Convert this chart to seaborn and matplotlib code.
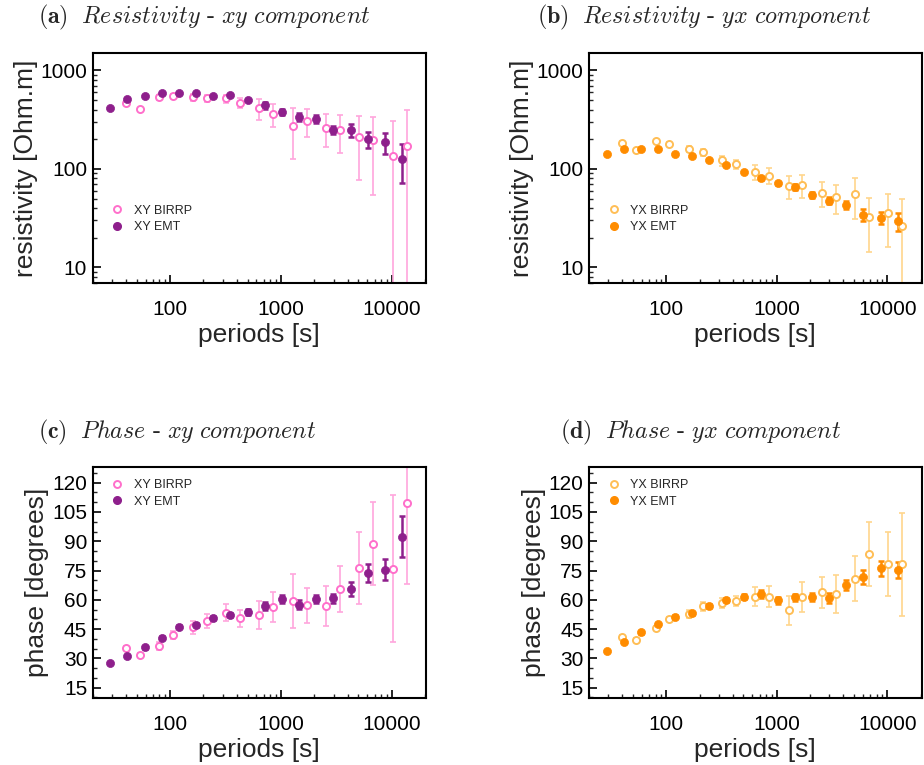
import numpy as np
import pandas as pd
import matplotlib
matplotlib.use("Agg")
import matplotlib.pyplot as plt
import seaborn as sns
from matplotlib.lines import Line2D
from matplotlib.ticker import LogLocator, FuncFormatter, MultipleLocator, NullFormatter

# ---------------- data ----------------
emt_periods = [28.8, 41.2, 58.8, 84.0, 120, 171.6, 245, 350, 501, 715, 1022, 1460,
               2086, 2982, 4260, 6087, 8700, 12430]
birrp_periods = [40, 53.3, 80, 106.7, 160, 213, 320, 427, 640, 853, 1280, 1707,
                 2560, 3413, 5120, 6827, 10240, 13653]

# (a) resistivity xy
xy_emt_rho = [414, 511, 552, 587, 587, 583, 545, 561, 503, 441, 380, 338, 322, 247, 247, 200, 188, 125]
xy_emt_rho_err = [5, 8, 8, 10, 10, 10, 10, 10, 12, 36, 30, 29, 27, 23, 36, 38, 45, 53]
xy_birrp_rho = [466, 404, 531, 548, 531, 519, 519, 469, 411, 360, 270, 310, 263, 247, 213, 197, 135, 169]
xy_birrp_rho_err = [20, 15, 30, 25, 45, 45, 50, 50, 100, 95, 145, 97, 95, 102, 135, 143, 168, 223]

# (b) resistivity yx
yx_emt_rho = [141, 160, 158, 158, 142, 135, 122, 109, 93, 80, 71.5, 66, 54.8, 47.6, 43, 34.3, 31.8, 29.4]
yx_emt_rho_err = [2, 3, 3, 3, 3, 3, 3, 3, 3, 3, 3, 5, 4, 4, 4, 4.7, 4.5, 6]
yx_birrp_rho = [184, 156, 190, 181, 160, 148, 122, 111, 93, 85.5, 67, 69, 57.5, 51.9, 55.7, 32.2, 36, 26.3]
yx_birrp_rho_err = [8, 5, 8, 8, 12, 12, 14, 12, 16, 16, 18, 18, 16, 17, 25, 18, 20, 23]

# (c) phase xy
xy_emt_phi = [27.4, 31.2, 35.6, 40.6, 46.2, 47.2, 50.8, 52.0, 53.7, 56.9, 60.3, 57.6, 60.3, 60.7, 65.6, 73.5, 75.5, 92.4]
xy_emt_phi_err = [0.5, 0.7, 0.7, 0.8, 0.8, 1.0, 1.0, 1.0, 1.5, 2.0, 2.0, 2.5, 2.0, 2.5, 3.7, 4.6, 5.6, 10.3]
xy_birrp_phi = [35.3, 31.5, 36.5, 41.8, 46.0, 49.1, 53.4, 50.6, 52.0, 56.4, 59.2, 57.1, 56.9, 65.5, 76.5, 88.8, 76.0, 109.8]
xy_birrp_phi_err = [1.0, 1.0, 2.0, 2.0, 3.4, 3.6, 4.3, 4.3, 7.2, 7.6, 13.8, 9.2, 10.4, 11.7, 18.4, 21.4, 37.5, 41.7]

# (d) phase yx
yx_emt_phi = [33.9, 38.5, 43.3, 47.4, 51.3, 53.2, 56.9, 60.0, 61.7, 62.9, 59.7, 61.2, 61.4, 60.9, 67.5, 71.6, 76.2, 75.3]
yx_emt_phi_err = [0.5, 0.6, 0.6, 0.7, 0.8, 0.8, 1.0, 1.0, 1.5, 2.0, 2.0, 2.0, 2.0, 2.5, 2.6, 3.7, 3.9, 3.9]
yx_birrp_phi = [41.1, 39.4, 45.5, 50.1, 52.7, 56.6, 58.5, 59.2, 61.5, 61.7, 54.7, 61.5, 63.9, 62.9, 70.9, 83.5, 78.4, 78.1]
yx_birrp_phi_err = [1.0, 1.0, 1.0, 1.2, 2.0, 2.3, 2.6, 2.6, 4.9, 5.3, 7.5, 7.6, 8.0, 9.6, 11.5, 16.4, 16.4, 26.2]

titles = [r"$\mathbf{(a)}$  $\mathit{Resistivity}\ \text{-}\ \mathit{xy\ component}$",
          r"$\mathbf{(b)}$  $\mathit{Resistivity}\ \text{-}\ \mathit{yx\ component}$",
          r"$\mathbf{(c)}$  $\mathit{Phase}\ \text{-}\ \mathit{xy\ component}$",
          r"$\mathbf{(d)}$  $\mathit{Phase}\ \text{-}\ \mathit{yx\ component}$"]

# ---------------- style ----------------
sns.set_theme(style="ticks")
plt.rcParams["font.family"] = ["Liberation Sans", "DejaVu Sans"]
plt.rcParams["mathtext.fontset"] = "cm"
plt.rcParams["axes.linewidth"] = 1.5

PINK = "#FF6FCB"
PINK_ERR = "#FFA6DD"
PURPLE = "#8E1F8C"
LORANGE = "#FFBE55"
LORANGE_ERR = "#FFD68C"
ORANGE = "#FF8C00"

W, H = 924, 765
fig = plt.figure(figsize=(W / 100, H / 100), dpi=100)


def ax_at(left, top, right, bottom):
    return fig.add_axes([left / W, 1 - bottom / H, (right - left) / W, (bottom - top) / H])


axes = [ax_at(92.7, 52.5, 426, 283.3), ax_at(589, 52.5, 921.5, 283.3),
        ax_at(92.7, 466.7, 426, 698), ax_at(589, 466.7, 921.5, 698)]

panels = [
    ("XY", xy_birrp_rho, xy_birrp_rho_err, xy_emt_rho, xy_emt_rho_err, PINK, PINK_ERR, PURPLE, "rho"),
    ("YX", yx_birrp_rho, yx_birrp_rho_err, yx_emt_rho, yx_emt_rho_err, LORANGE, LORANGE_ERR, ORANGE, "rho"),
    ("XY", xy_birrp_phi, xy_birrp_phi_err, xy_emt_phi, xy_emt_phi_err, PINK, PINK_ERR, PURPLE, "phi"),
    ("YX", yx_birrp_phi, yx_birrp_phi_err, yx_emt_phi, yx_emt_phi_err, LORANGE, LORANGE_ERR, ORANGE, "phi"),
]

plain = FuncFormatter(lambda v, p: f"{v:g}")

for ax, (comp, bv, be, ev, ee, bcol, becol, ecol, kind) in zip(axes, panels):
    ax.set_xscale("log")
    if kind == "rho":
        ax.set_yscale("log")
    ax.errorbar(birrp_periods, bv, yerr=be, fmt="none", ecolor=becol, elinewidth=1.2,
                capsize=2.5, capthick=1.2, zorder=2)
    ax.errorbar(emt_periods, ev, yerr=ee, fmt="none", ecolor=ecol, elinewidth=1.8,
                capsize=2.5, capthick=1.8, zorder=3)
    dfb = pd.DataFrame({"period": birrp_periods, "val": bv})
    dfe = pd.DataFrame({"period": emt_periods, "val": ev})
    sns.scatterplot(data=dfb, x="period", y="val", ax=ax, marker="o", s=26,
                    facecolor="white", edgecolor=bcol, linewidth=1.4, zorder=4)
    sns.scatterplot(data=dfe, x="period", y="val", ax=ax, marker="o", s=34,
                    color=ecol, edgecolor=ecol, linewidth=0.5, zorder=5)
    ax.set_xlim(20, 20400)
    ax.xaxis.set_major_locator(LogLocator(base=10, numticks=10))
    ax.xaxis.set_minor_locator(LogLocator(base=10, subs=np.arange(2, 10), numticks=10))
    ax.xaxis.set_major_formatter(plain)
    ax.xaxis.set_minor_formatter(NullFormatter())
    if kind == "rho":
        ax.set_ylim(6.9, 1520)
        ax.yaxis.set_major_locator(LogLocator(base=10, numticks=10))
        ax.yaxis.set_minor_locator(LogLocator(base=10, subs=np.arange(2, 10), numticks=10))
        ax.yaxis.set_major_formatter(plain)
        ax.yaxis.set_minor_formatter(NullFormatter())
        ax.set_ylabel("resistivity [Ohm.m]", fontsize=19)
        ax.yaxis.set_label_coords(-0.165, 0.5)
        legbbox = (0.01, 0.395)
    else:
        ax.set_ylim(9.7, 128.2)
        ax.yaxis.set_major_locator(MultipleLocator(15))
        ax.yaxis.set_minor_locator(MultipleLocator(5))
        ax.set_ylabel("phase [degrees]", fontsize=19)
        ax.yaxis.set_label_coords(-0.13, 0.5)
        legbbox = (0.01, 1.0)
    ax.set_xlabel("periods [s]", fontsize=19)
    ax.xaxis.set_label_coords(0.5, -0.172)
    ax.tick_params(which="major", direction="in", length=6, width=1.2, labelsize=15,
                   top=False, right=False, colors="black")
    ax.tick_params(axis="x", which="major", pad=12)
    ax.tick_params(axis="y", which="major", pad=4)
    ax.tick_params(which="minor", direction="in", length=3, width=1.0, top=False, right=False)
    for s in ax.spines.values():
        s.set_linewidth(1.5)
        s.set_color("black")
    handles = [Line2D([], [], linestyle="none", marker="o", markersize=5,
                      markerfacecolor="white", markeredgecolor=bcol, markeredgewidth=1.4,
                      label=f"{comp} BIRRP"),
               Line2D([], [], linestyle="none", marker="o", markersize=5.5,
                      markerfacecolor=ecol, markeredgecolor=ecol, label=f"{comp} EMT")]
    ax.legend(handles=handles, loc="upper left", bbox_to_anchor=legbbox, frameon=False,
              fontsize=9, handletextpad=0.6, labelspacing=0.35, borderaxespad=0.6,
              handlelength=1.4)

title_pos = [(38, 17), (537, 17), (38, 432), (560, 432)]
for t, (x, y) in zip(titles, title_pos):
    fig.text(x / W, 1 - y / H, t, fontsize=17.3, ha="left", va="center")

fig.savefig("out.png", dpi=100)
